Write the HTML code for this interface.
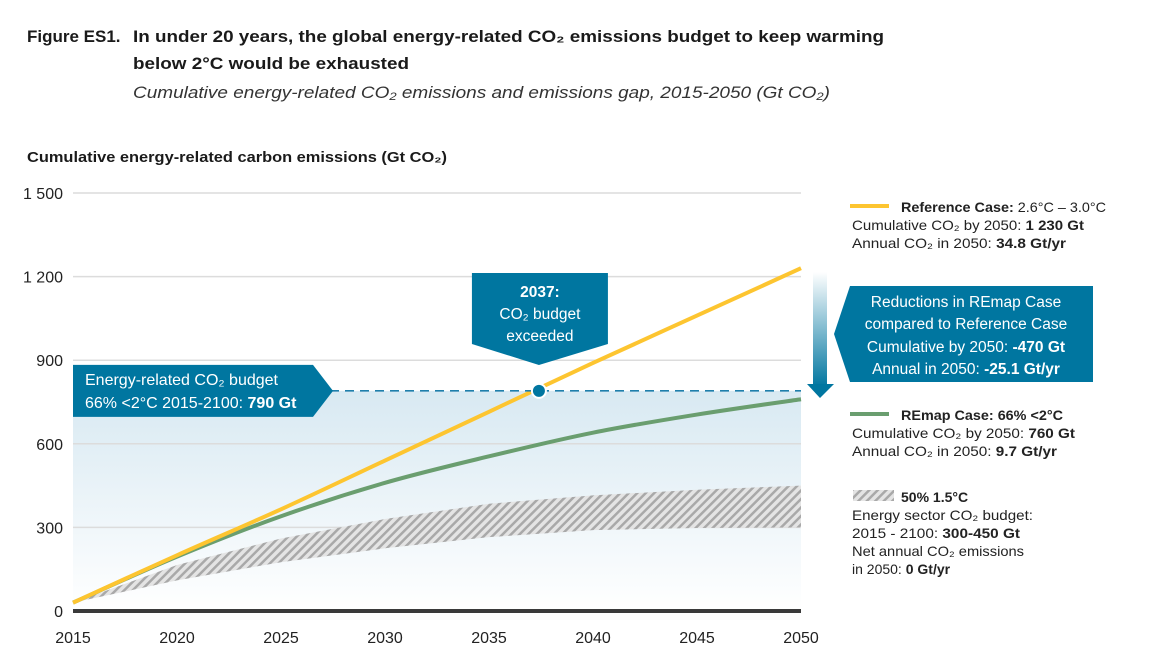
<!DOCTYPE html>
<html><head><meta charset="utf-8"><style>
body{margin:0;background:#fff;font-family:"Liberation Sans",sans-serif;}
svg{display:block}
text{font-family:"Liberation Sans",sans-serif;}
</style></head><body>
<svg width="1160" height="669" viewBox="0 0 1160 669">
<defs>
<linearGradient id="bg" x1="0" y1="0" x2="0" y2="1"><stop offset="0" stop-color="#d8e9f2"/><stop offset="1" stop-color="#ffffff"/></linearGradient>
<linearGradient id="arr" x1="0" y1="0" x2="0" y2="1"><stop offset="0" stop-color="#ffffff"/><stop offset="1" stop-color="#0076a0"/></linearGradient>
<pattern id="hatch" width="6" height="6" patternUnits="userSpaceOnUse" patternTransform="rotate(45)"><rect width="6" height="6" fill="#e4e4e4"/><rect width="2.5" height="6" fill="#a9a9a9"/></pattern>
</defs>
<text x="27" y="42" font-size="17" font-weight="bold" fill="#1a1a1a">Figure ES1.</text>
<text x="133" y="42" font-size="17" font-weight="bold" fill="#1a1a1a" textLength="751" lengthAdjust="spacingAndGlyphs">In under 20 years, the global energy-related CO₂ emissions budget to keep warming</text>
<text x="133" y="69" font-size="17" font-weight="bold" fill="#1a1a1a" textLength="276" lengthAdjust="spacingAndGlyphs">below 2°C would be exhausted</text>
<text x="133" y="98" font-size="17" font-style="italic" fill="#333" textLength="697" lengthAdjust="spacingAndGlyphs">Cumulative energy-related CO₂ emissions and emissions gap, 2015-2050 (Gt CO₂)</text>
<text x="27" y="162" font-size="14.5" font-weight="bold" fill="#1a1a1a" textLength="420" lengthAdjust="spacingAndGlyphs">Cumulative energy-related carbon emissions (Gt CO₂)</text>
<g id="budgetbg"></g>
<g id="grid"></g>
<g id="series"></g>
<g id="annot"></g>
<g font-size="14" fill="#222">
<line x1="850" y1="206" x2="889" y2="206" stroke="#fdc530" stroke-width="4"/>
<text x="901" y="212" textLength="205" lengthAdjust="spacingAndGlyphs"><tspan font-weight="bold">Reference Case:</tspan> 2.6°C – 3.0°C</text>
<text x="852" y="230" textLength="232" lengthAdjust="spacingAndGlyphs">Cumulative CO₂ by 2050: <tspan font-weight="bold">1 230 Gt</tspan></text>
<text x="852" y="248" textLength="214" lengthAdjust="spacingAndGlyphs">Annual CO₂ in 2050: <tspan font-weight="bold">34.8 Gt/yr</tspan></text>
<line x1="850" y1="414" x2="889" y2="414" stroke="#6a9e6f" stroke-width="4"/>
<text x="901" y="420" font-weight="bold" textLength="162" lengthAdjust="spacingAndGlyphs">REmap Case: 66% &lt;2°C</text>
<text x="852" y="438" textLength="223" lengthAdjust="spacingAndGlyphs">Cumulative CO₂ by 2050: <tspan font-weight="bold">760 Gt</tspan></text>
<text x="852" y="456" textLength="205" lengthAdjust="spacingAndGlyphs">Annual CO₂ in 2050: <tspan font-weight="bold">9.7 Gt/yr</tspan></text>
<rect x="853" y="490" width="41" height="11" fill="url(#hatch)"/>
<text x="901" y="502" font-weight="bold">50% 1.5°C</text>
<text x="852" y="520" textLength="181" lengthAdjust="spacingAndGlyphs">Energy sector CO₂ budget:</text>
<text x="852" y="538" textLength="168" lengthAdjust="spacingAndGlyphs">2015 - 2100: <tspan font-weight="bold">300-450 Gt</tspan></text>
<text x="852" y="556" textLength="172" lengthAdjust="spacingAndGlyphs">Net annual CO₂ emissions</text>
<text x="852" y="574">in 2050: <tspan font-weight="bold">0 Gt/yr</tspan></text>
</g>
<g>
<rect x="813" y="272" width="14" height="115" fill="url(#arr)"/>
<polygon points="807,384 834,384 820,398" fill="#0076a0"/>
<polygon points="850,286 1093,286 1093,382 850,382 834,334" fill="#0076a0"/>
<text x="966" y="307" font-size="15.5" fill="#fff" text-anchor="middle">Reductions in REmap Case</text>
<text x="966" y="329" font-size="15.5" fill="#fff" text-anchor="middle">compared to Reference Case</text>
<text x="966" y="352" font-size="15.5" fill="#fff" text-anchor="middle">Cumulative by 2050: <tspan font-weight="bold">-470 Gt</tspan></text>
<text x="966" y="374" font-size="15.5" fill="#fff" text-anchor="middle">Annual in 2050: <tspan font-weight="bold">-25.1 Gt/yr</tspan></text>
</g>
</svg>
<script>
const years=[2015,2020,2025,2030,2035,2040,2045,2050];
const referenceCase=[30,200,365,540,715,890,1060,1230];
const remapCase=[30,195,340,460,555,640,705,760];
const hatchLow=[30,110,175,225,265,290,298,300];
const hatchHigh=[30,165,260,330,385,415,435,450];
const yTicks=[0,300,600,900,1200,1500];
const yTickLabels=["0","300","600","900","1 200","1 500"];
const xTicks=[2015,2020,2025,2030,2035,2040,2045,2050];
const budget=790;
const exceedYear=2037.4;
const NS="http://www.w3.org/2000/svg";
const X=y=>73+(y-2015)*(801-73)/35;
const Y=v=>611-v*(611-193)/1500;
function mk(tag,attrs,parent){const e=document.createElementNS(NS,tag);for(const k in attrs)e.setAttribute(k,attrs[k]);document.getElementById(parent).appendChild(e);return e;}
let e=mk('rect',{x:X(2015),y:Y(budget),width:X(2050)-X(2015),height:Y(0)-Y(budget),fill:'url(#bg)'},'budgetbg');


yTicks.forEach((v,i)=>{
 if(v>0){const l=mk('line',{x1:X(2015),x2:X(2050),y1:Y(v),y2:Y(v),stroke:'#dcdcdc','stroke-width':1.5},'grid');
 
 }
 const t=mk('text',{x:63,y:Y(v)+6,'font-size':16,fill:'#222','text-anchor':'end'},'grid');t.textContent=yTickLabels[i];
 
 
});
xTicks.forEach(v=>{const t=mk('text',{x:X(v),y:643,'font-size':16,fill:'#222','text-anchor':'middle'},'grid');t.textContent=v;
 
 });
const pts=a=>a.map((v,i)=>X(years[i])+','+Y(v)).join(' ');
const curve=a=>{let p=a.map((v,i)=>[X(years[i]),Y(v)]);let d='M'+p[0];for(let i=0;i<p.length-1;i++){const p0=p[Math.max(i-1,0)],p1=p[i],p2=p[i+1],p3=p[Math.min(i+2,p.length-1)];d+=' C'+(p1[0]+(p2[0]-p0[0])/6)+','+(p1[1]+(p2[1]-p0[1])/6)+' '+(p2[0]-(p3[0]-p1[0])/6)+','+(p2[1]-(p3[1]-p1[1])/6)+' '+p2[0]+','+p2[1];}return d;};
const hp=pts(hatchHigh)+' '+hatchLow.map((v,i)=>X(years[i])+','+Y(v)).reverse().join(' ');
e=mk('polygon',{points:hp,fill:'url(#hatch)'},'series');


e=mk('line',{x1:X(2015),x2:X(2050),y1:Y(0),y2:Y(0),stroke:'#3a3a3a','stroke-width':4},'series');


e=mk('path',{d:curve(remapCase),fill:'none',stroke:'#6a9e6f','stroke-width':4},'series');


e=mk('path',{d:curve(referenceCase),fill:'none',stroke:'#fdc530','stroke-width':4},'series');


e=mk('line',{x1:330,x2:X(2050),y1:Y(budget),y2:Y(budget),stroke:'#1f7fab','stroke-width':1.6,'stroke-dasharray':'9,6'},'annot');


e=mk('circle',{cx:X(exceedYear),cy:Y(budget),r:7,fill:'#0076a0',stroke:'#fff','stroke-width':2},'annot');


const by=Y(budget);
e=mk('polygon',{points:`73,${by-26} 313,${by-26} 333,${by} 313,${by+26} 73,${by+26}`,fill:'#0076a0'},'annot');


let t=mk('text',{x:85,y:by-6,'font-size':16,fill:'#fff'},'annot');t.textContent='Energy-related CO₂ budget';
t=mk('text',{x:85,y:by+17,'font-size':16,fill:'#fff'},'annot');t.innerHTML='66% &lt;2°C 2015-2100: <tspan font-weight="bold">790 Gt</tspan>';
const cx=X(exceedYear);
e=mk('polygon',{points:`${cx-67},273 ${cx+69},273 ${cx+69},344 ${cx},365 ${cx-67},344`,fill:'#0076a0'},'annot');


[['2037:',297],['CO₂ budget',319],['exceeded',341]].forEach(([s,y])=>{const q=mk('text',{x:cx+1,y:y,'font-size':15.5,fill:'#fff','text-anchor':'middle','font-weight':s=='2037:'?'bold':'normal'},'annot');q.textContent=s;});
</script>
</body></html>
